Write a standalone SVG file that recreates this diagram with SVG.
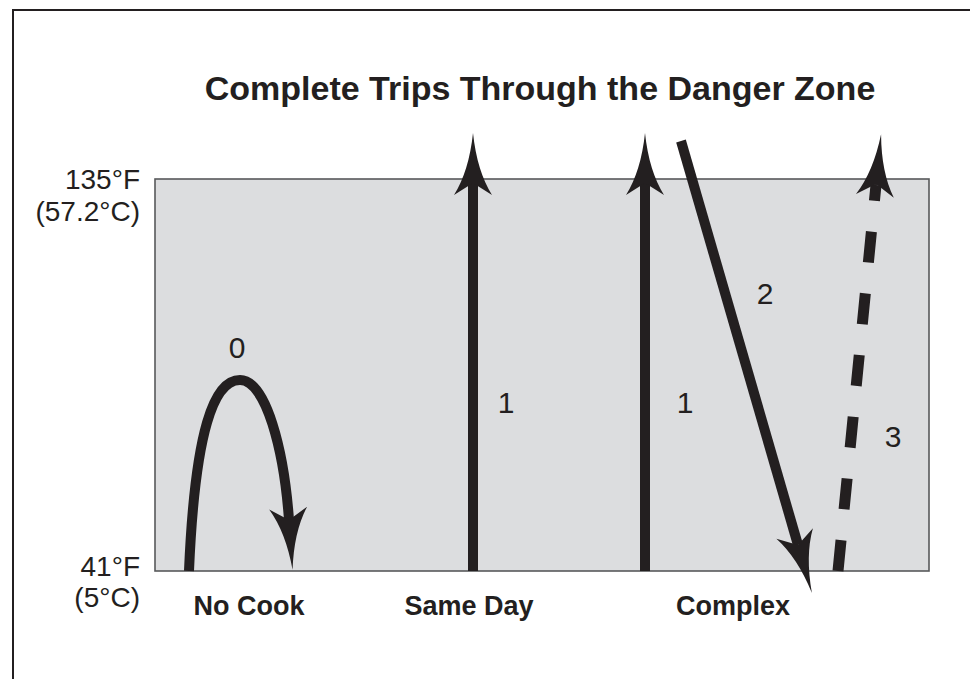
<svg xmlns="http://www.w3.org/2000/svg" width="970" height="679" viewBox="0 0 970 679">
  <style>
    .t { font-family: "Liberation Sans", Arial, sans-serif; fill: #231f20; }
    .title { font-size: 34px; font-weight: bold; }
    .cat { font-size: 27px; font-weight: bold; }
    .num { font-size: 30px; }
    .axis { font-size: 28px; }
    .arr { fill: none; stroke: #231f20; stroke-width: 10; }
    .dash { stroke-dasharray: 31 31; stroke-width: 11; }
  </style>
  <defs>
    <marker id="head" markerUnits="userSpaceOnUse" orient="auto" markerWidth="80" markerHeight="50" refX="0" refY="0" viewBox="-15 -25 80 50" overflow="visible">
      <path d="M50,0 Q12,4 -12,19 L0,0 L-12,-19 Q12,-4 50,0 Z" fill="#231f20"/>
    </marker>
  </defs>
  <rect width="970" height="679" fill="#ffffff"/>
  <rect id="frame" x="13" y="10" width="1000" height="720" fill="none" stroke="#231f20" stroke-width="2"/>

  <g id="title"><text class="t title" x="540" y="100" text-anchor="middle">Complete Trips Through the Danger Zone</text></g>

  <g id="danger-zone"><rect x="155" y="179" width="774" height="392" fill="#dcdddf" stroke="#58595b" stroke-width="1.6"/></g>

  <g id="axis-labels">
    <text class="t axis" x="140" y="189" text-anchor="end">135°F</text>
    <text class="t axis" x="140" y="221" text-anchor="end">(57.2°C)</text>
    <text class="t axis" x="140" y="576" text-anchor="end">41°F</text>
    <text class="t axis" x="140" y="607" text-anchor="end">(5°C)</text>
  </g>

  <g id="connectors">
    <path id="no-cook-arrow" class="arr" d="M189,571 C195,430 214,380 240,380 C266,380 284,450 289,520" marker-end="url(#head)"/>
    <path id="same-day-arrow" class="arr" d="M473,571 V183" marker-end="url(#head)"/>
    <path id="complex-arrow-1" class="arr" d="M645,571 V183" marker-end="url(#head)"/>
    <path id="complex-arrow-2" class="arr" d="M681,141 L798,545" marker-end="url(#head)"/>
    <path id="complex-arrow-3" class="arr dash" d="M838,571 L876,185"/>
    <path class="arr" d="M876,185 L876.1,184" stroke="none" marker-end="url(#head)"/>
  </g>

  <g id="trip-counts">
    <text class="t num" x="237" y="358" text-anchor="middle">0</text>
    <text class="t num" x="506" y="413" text-anchor="middle">1</text>
    <text class="t num" x="685" y="413" text-anchor="middle">1</text>
    <text class="t num" x="765" y="304" text-anchor="middle">2</text>
    <text class="t num" x="893" y="447" text-anchor="middle">3</text>
  </g>

  <g id="no-cook"><text class="t cat" x="249" y="615" text-anchor="middle">No Cook</text></g>
  <g id="same-day"><text class="t cat" x="469" y="615" text-anchor="middle">Same Day</text></g>
  <g id="complex"><text class="t cat" x="733" y="615" text-anchor="middle">Complex</text></g>
</svg>
